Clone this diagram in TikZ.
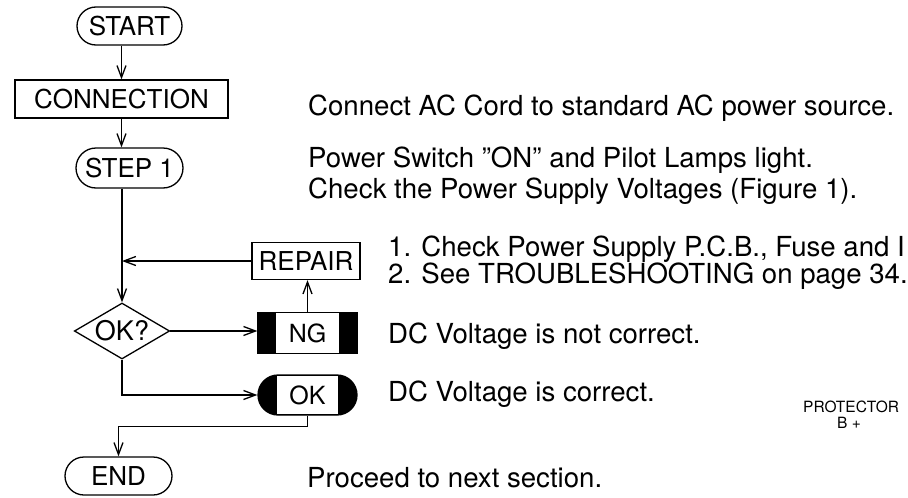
\documentclass[tikz,border=0pt]{standalone}
\usepackage{fontspec}
\setmainfont{TeX Gyre Heros}
\usetikzlibrary{arrows.meta,shapes.geometric,calc}
\begin{document}
\begin{tikzpicture}[x=1pt,y=-1pt,
  every node/.style={font=\fontsize{26}{30}\selectfont},
  ln/.style={line width=1.3pt},
  arr/.style={ln, -{Straight Barb[length=12pt,width=9pt]}},
  stad/.style={draw, ln, rounded corners=19pt, minimum width=105pt, minimum height=38pt, inner sep=0pt},
  rbox/.style={draw, ln, minimum height=38pt, inner sep=0pt},
  txt/.style={anchor=base west, inner sep=0pt, font=\fontsize{27.6}{30}\selectfont},
  small/.style={font=\fontsize{15.5}{17}\selectfont, inner sep=0pt}]
\useasboundingbox (0,0) rectangle (908,498);

% flowchart nodes
\node[stad] (start) at (129.5,26) {START};
\node[rbox, minimum width=213pt] (conn) at (121.5,99) {CONNECTION};
\node[stad, minimum width=107pt, minimum height=40pt, rounded corners=20pt] (step) at (129.5,168) {STEP 1};
\node[diamond, draw, ln, aspect=2, inner sep=0pt, minimum width=90pt, minimum height=56pt, font=\fontsize{27}{30}\selectfont] (dia) at (122,331) {OK?};
\node[rbox, minimum width=108pt, minimum height=37pt] (rep) at (306,261) {REPAIR};

\node[draw, ln, minimum width=99pt, minimum height=41pt, inner sep=0pt] (ng) at (307.5,333) {};
\fill (ng.north west) rectangle ($(ng.south west)+(19,0)$);
\fill (ng.north east) rectangle ($(ng.south east)+(-19,0)$);
\node[inner sep=0pt, font=\fontsize{25}{28}\selectfont] (ngt) at (ng) {NG};

\node[draw, ln, fill=black, rounded corners=20pt, minimum width=99pt, minimum height=40pt, inner sep=0pt] (ok) at (307.5,395) {};
\node[fill=white, minimum width=61pt, minimum height=37.6pt, inner sep=0pt, font=\fontsize{25}{28}\selectfont] (okt) at (ok) {OK};

\node[stad, minimum width=107pt] (endn) at (118.5,476) {END};

% connectors
\draw[arr] (start.south -| conn.north) -- (conn.north);
\draw[arr] (conn.south) -- (conn.south |- step.north);
\draw[arr] (step.south -| dia.north) -- (dia.north);
\coordinate (j) at (dia.north |- rep.west);
\draw[arr] (rep.west) -- (j);
\draw[arr] (dia.east) -- (dia.east -| ng.west);
\draw[arr] (ng.north) -- (ng.north |- rep.south);
\draw[arr] (dia.south) |- (ok.west);
\draw[arr] (ok.south) -- ++(0,11) -| (endn.north);

% descriptions
\node[txt] (t1) at (308,115) {Connect AC Cord to standard AC power source.};
\node[txt] (t2) at (308,167) {Power Switch "ON" and Pilot Lamps light.};
\node[txt] (t3) at (308,198) {Check the Power Supply Voltages (Figure 1).};
\node[txt] (t4) at (388,256) {1. Check Power Supply P.C.B., Fuse and I};
\node[txt] (t5) at (388,283) {2. See TROUBLESHOOTING on page 34.};
\node[txt] (t6) at (388,343) {DC Voltage is not correct.};
\node[txt] (t7) at (388,401) {DC Voltage is correct.};
\node[txt] (t8) at (307,487) {Proceed to next section.};

\node[small, anchor=base west] (prot) at (803,412) {PROTECTOR};
\node[small, anchor=base] (bplus) at (849,428) {B +};
\end{tikzpicture}
\end{document}
